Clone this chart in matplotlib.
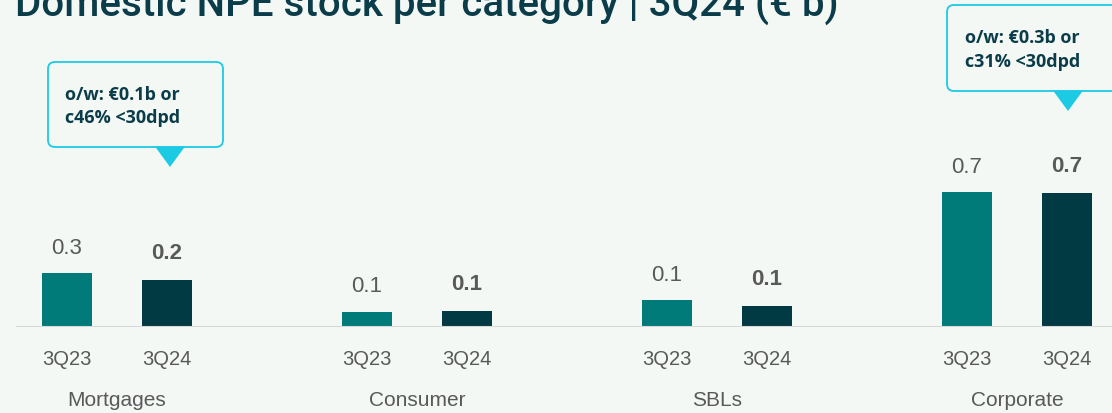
import matplotlib
matplotlib.use("Agg")
import matplotlib.pyplot as plt
from matplotlib.patches import FancyBboxPatch, Polygon
from matplotlib.transforms import blended_transform_factory

# ---- data ----
categories = ["Mortgages", "Consumer", "SBLs", "Corporate"]
periods = ["3Q23", "3Q24"]
values_3q23 = [0.28, 0.08, 0.14, 0.70]
values_3q24 = [0.245, 0.083, 0.11, 0.695]
callout_texts = ["o/w: €0.1b or\nc46% <30dpd", "o/w: €0.3b or\nc31% <30dpd"]
title = "Domestic NPE stock per category | 3Q24 (€ b)"

BG = "#F3F8F5"
TEAL = "#007B7A"
DARK = "#023A43"
GREY = "#595959"
NAVY = "#0B3C49"
CYAN = "#1CCBE3"

W, H = 1112, 414
fig = plt.figure(figsize=(W / 100, H / 100), dpi=100, facecolor=BG)

base_px = 328  # baseline from top
ax = fig.add_axes([0, (H - base_px) / H, 1, base_px / H])
ax.set_facecolor(BG)
px_per_unit = 193.0
ax.set_ylim(0, base_px / px_per_unit)
ax.set_xlim(-0.67, -0.67 + W / 100)
for s in ax.spines.values():
    s.set_visible(False)
ax.set_yticks([])

xs23 = [3 * i for i in range(len(categories))]
xs24 = [3 * i + 1 for i in range(len(categories))]
b1 = ax.bar(xs23, values_3q23, width=0.5, color=TEAL, zorder=2)
b2 = ax.bar(xs24, values_3q24, width=0.5, color=DARK, zorder=2)

ax.axhline(0, xmin=17 / W, xmax=1, color="#D6D9D8", lw=1.5, zorder=3)

fn = "Liberation Sans"
for rect, v in zip(b1, values_3q23):
    ax.annotate(f"{v:.1f}", (rect.get_x() + rect.get_width() / 2, v),
                xytext=(0, 11), textcoords="offset points", ha="center", va="bottom",
                fontsize=16, color=GREY, family=fn)
for rect, v in zip(b2, values_3q24):
    ax.annotate(f"{v:.1f}", (rect.get_x() + rect.get_width() / 2, v),
                xytext=(0, 12), textcoords="offset points", ha="center", va="bottom",
                fontsize=16, color=GREY, family=fn, fontweight="bold")

ax.set_xticks(xs23 + xs24)
ax.set_xticklabels(periods[:1] * len(xs23) + periods[1:] * len(xs24))
ax.tick_params(axis="x", length=0, pad=16, labelsize=14.5, labelcolor=GREY)
for t in ax.get_xticklabels():
    t.set_family(fn)

tr = blended_transform_factory(ax.transData, fig.transFigure)
for i, c in enumerate(categories):
    ax.text(3 * i + 0.5, 1 - 401 / H, c, transform=tr, ha="center", va="center",
            fontsize=15, color=GREY, family=fn)

# title
fig.text(15 / W, 1 - 16 / H, title, ha="left", va="baseline", fontsize=29,
         color=NAVY, family="Roboto", fontweight="medium")


def px(x, y):
    return (x / W, 1 - y / H)


callout_boxes = [(48, 63, 223, 148, 170, 168, 65), (947, 6, 1130, 92, 1068, 112, 965)]
for (x0, y0, x1, y1, tx, ty, lx), txt in zip(callout_boxes, callout_texts):
    p = FancyBboxPatch((x0 / 100, (H - y1) / 100), (x1 - x0) / 100, (y1 - y0) / 100,
                       boxstyle="round,pad=0,rounding_size=0.07",
                       transform=fig.dpi_scale_trans, facecolor=BG, edgecolor=CYAN,
                       lw=1.3, zorder=5)
    fig.patches.append(p)
    tri = Polygon([px(tx - 15, y1 - 0.5), px(tx + 15, y1 - 0.5), px(tx, ty)],
                  closed=True, transform=fig.transFigure, facecolor=CYAN,
                  edgecolor="none", zorder=6)
    fig.patches.append(tri)
    fig.text(lx / W, 1 - ((y0 + y1) / 2 + 1) / H, txt, ha="left", va="center",
             fontsize=13, color=NAVY, family="Open Sans", fontweight="bold",
             linespacing=1.42, zorder=7)

fig.savefig("out.png", dpi=100, facecolor=BG)
